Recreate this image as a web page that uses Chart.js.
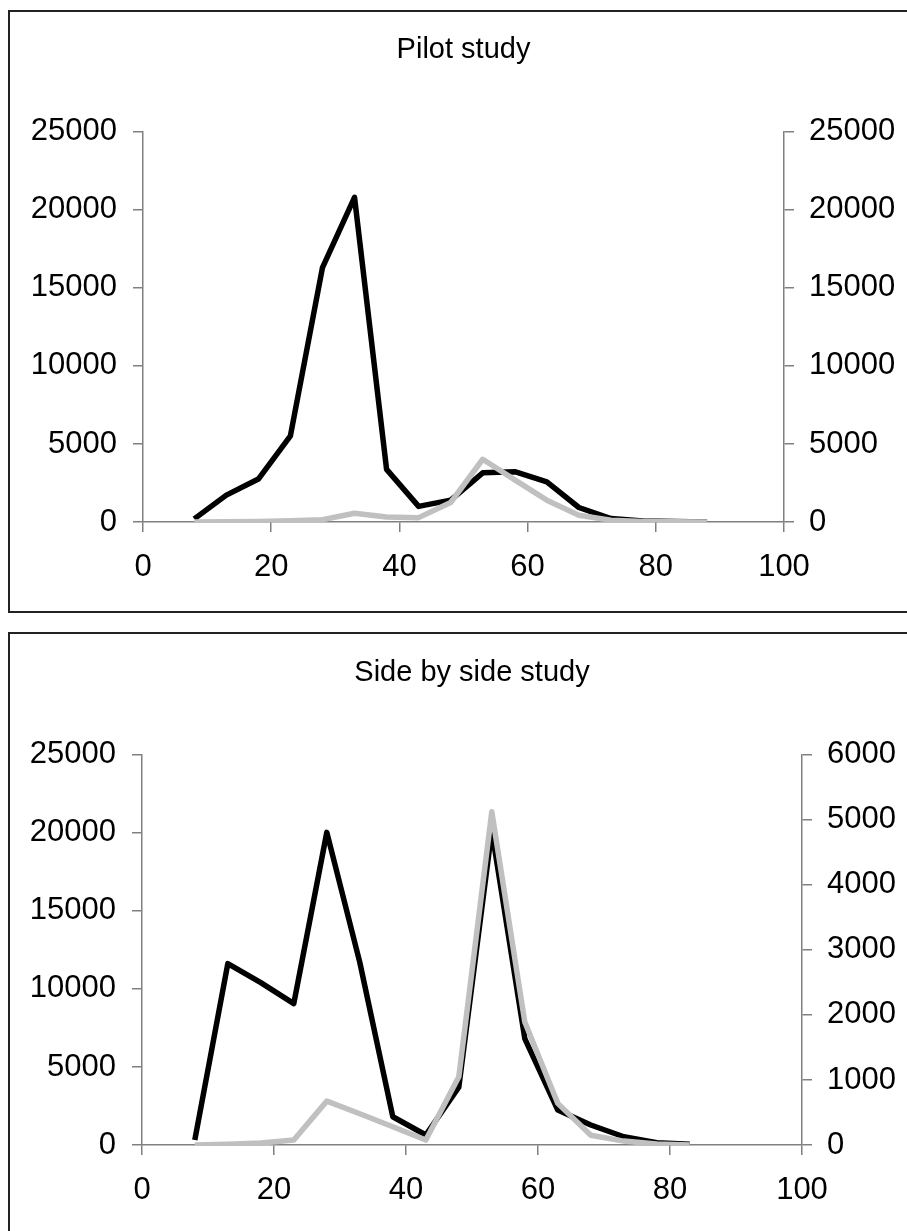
<!DOCTYPE html>
<html>
<head>
<meta charset="utf-8">
<script src="https://cdn.jsdelivr.net/npm/chart.js@4/dist/chart.umd.min.js"></script>
<style>
  body { margin: 0; width: 907px; height: 1231px; overflow: hidden; background: #fff; position: relative; }
  .box { position: absolute; left: 8px; width: 950px; border: 2px solid #222; box-sizing: border-box; }
  canvas { position: absolute; left: 0; }
</style>
</head>
<body>
<div class="box" style="top:10px;height:603px;"></div>
<div class="box" style="top:632px;height:700px;"></div>
<canvas id="chartPilot" width="907" height="613" style="top:0px;"></canvas>
<canvas id="chartSide" width="907" height="608" style="top:623px;"></canvas>
<script>
// valeurs
const xPilot = [8, 13, 18, 23, 28, 33, 38, 43, 48, 53, 58, 63, 68, 73, 78, 83, 88];
const pilotBlack = [200, 1720, 2750, 5520, 16300, 20800, 3370, 1000, 1400, 3150, 3220, 2570, 930, 220, 60, 40, 0];
const pilotGrey = [0, 20, 30, 80, 150, 560, 320, 280, 1250, 4020, 2700, 1400, 430, 120, 30, 10, 0];

const xSide = [8, 13, 18, 23, 28, 33, 38, 43, 48, 53, 58, 63, 68, 73, 78, 83];
const sideBlack = [320, 11620, 10400, 9060, 20030, 11700, 1810, 640, 3700, 20140, 6820, 2240, 1280, 530, 150, 50];
const sideGrey = [0, 10, 30, 77, 675, 480, 280, 77, 1048, 5125, 1890, 640, 150, 60, 15, 0];

const xTicks = [0, 20, 40, 60, 80, 100];
const leftTicks = [0, 5000, 10000, 15000, 20000, 25000];
const rightTicksPilot = [0, 5000, 10000, 15000, 20000, 25000];
const rightTicksSide = [0, 1000, 2000, 3000, 4000, 5000, 6000];

const police = "'Liberation Sans', Arial, sans-serif";
const gris = "#808080";

function points(xs, ys) {
  return xs.map((x, i) => ({ x: x, y: ys[i] }));
}

function axeY(position, ticks, largeur, pad) {
  return {
    type: "linear",
    position: position,
    min: ticks[0],
    max: ticks[ticks.length - 1],
    afterBuildTicks: (s) => { s.ticks = ticks.map(v => ({ value: v })); },
    afterFit: (s) => { s.width = largeur; },
    grid: { drawOnChartArea: false, drawTicks: true, tickLength: 10, color: gris, lineWidth: 1.5 },
    border: { display: true, color: gris, width: 1.5 },
    ticks: { color: "#000", font: { family: police, size: 31 }, padding: pad, callback: v => String(v) }
  };
}

function creerGraphique(id, titre, xs, noir, grisVals, rightTicks, largeurDroite, hauteurX) {
  const ctx = document.getElementById(id).getContext("2d");
  return new Chart(ctx, {
    type: "line",
    data: {
      datasets: [
        {
          label: "gris",
          data: points(xs, grisVals),
          yAxisID: "y2",
          borderColor: "#c0c0c0",
          borderWidth: 5.5,
          pointRadius: 0,
          borderJoinStyle: "round",
          tension: 0
        },
        {
          label: "noir",
          data: points(xs, noir),
          yAxisID: "y",
          borderColor: "#000",
          borderWidth: 5.5,
          pointRadius: 0,
          borderJoinStyle: "round",
          tension: 0
        }
      ]
    },
    options: {
      responsive: false,
      animation: false,
      devicePixelRatio: 1,
      layout: { padding: 0 },
      plugins: {
        legend: { display: false },
        tooltip: { enabled: false },
        title: {
          display: true,
          text: titre,
          fullSize: false,
          color: "#000",
          font: { family: police, size: 29, weight: "normal" },
          padding: { top: 33, bottom: 64 }
        }
      },
      scales: {
        x: {
          type: "linear",
          min: 0,
          max: 100,
          afterBuildTicks: (s) => { s.ticks = xTicks.map(v => ({ value: v })); },
          afterFit: (s) => { s.height = hauteurX; },
          grid: { drawOnChartArea: false, drawTicks: true, tickLength: 10, color: gris, lineWidth: 1.5 },
          border: { display: true, color: gris, width: 1.5 },
          ticks: { color: "#000", font: { family: police, size: 31 }, padding: 17, maxRotation: 0, callback: v => String(v) }
        },
        y: axeY("left", leftTicks, id === "chartPilot" ? 143 : 142, 16),
        y2: axeY("right", rightTicks, largeurDroite, 15)
      }
    }
  });
}

creerGraphique("chartPilot", "Pilot study", xPilot, pilotBlack, pilotGrey, rightTicksPilot, 123, 91);
creerGraphique("chartSide", "Side by side study", xSide, sideBlack, sideGrey, rightTicksSide, 105, 86);
</script>
</body>
</html>
